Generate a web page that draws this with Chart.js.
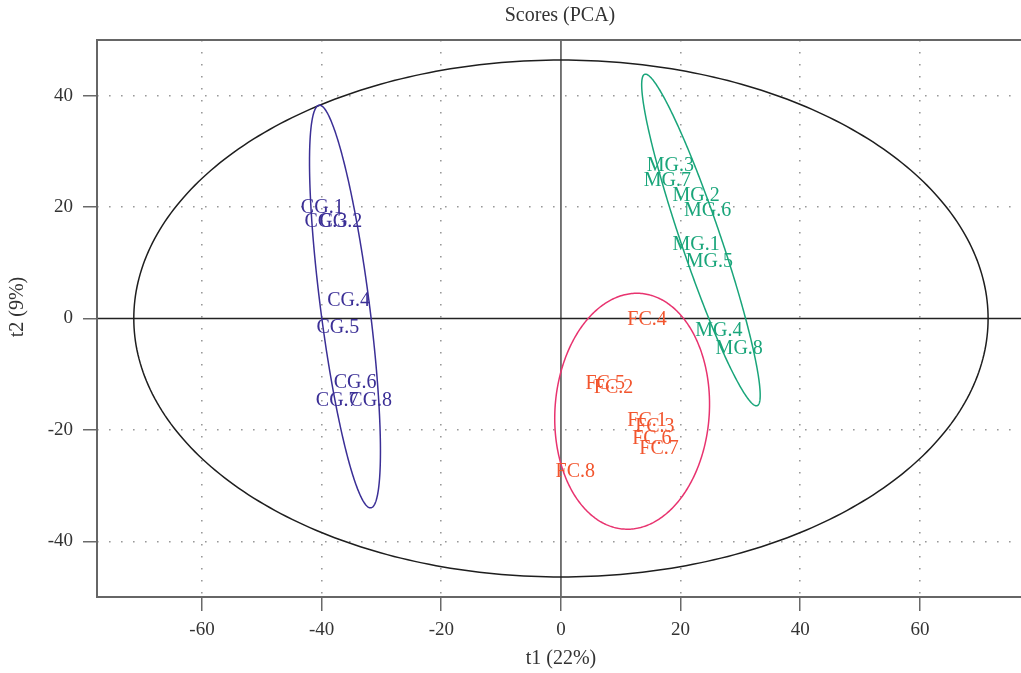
<!DOCTYPE html>
<html><head><meta charset="utf-8">
<script src="https://cdn.jsdelivr.net/npm/chart.js@4/dist/chart.umd.min.js"></script>
<style>html,body{margin:0;padding:0;background:#fff}#wrap{width:1021px;height:673px;position:relative}</style>
</head><body><div id="wrap"><canvas id="c"></canvas></div>
<script>
// ---- data ----
const chartTitle = 'Scores (PCA)';
const xAxisTitle = 't1 (22%)';
const yAxisTitle = 't2 (9%)';
const xTickValues = [-60, -40, -20, 0, 20, 40, 60];
const yTickValues = [-40, -20, 0, 20, 40];

const cgLabels = ['CG.1','CG.2','CG.3','CG.4','CG.5','CG.6','CG.7','CG.8'];
const cgT1 = [-39.9, -36.8, -39.3, -35.5, -37.3, -34.4, -37.4, -31.8];
const cgT2 = [19.9, 17.3, 17.3, 3.2, -1.6, -11.6, -14.7, -14.7];

const mgLabels = ['MG.1','MG.2','MG.3','MG.4','MG.5','MG.6','MG.7','MG.8'];
const mgT1 = [22.6, 22.6, 18.3, 26.4, 24.8, 24.5, 17.8, 29.8];
const mgT2 = [13.3, 22.1, 27.5, -2.2, 10.1, 19.4, 24.8, -5.4];

const fcLabels = ['FC.1','FC.2','FC.3','FC.4','FC.5','FC.6','FC.7','FC.8'];
const fcT1 = [14.4, 8.8, 15.7, 14.4, 7.4, 15.2, 16.4, 2.4];
const fcT2 = [-18.3, -12.5, -19.4, -0.2, -11.7, -21.5, -23.4, -27.6];

// confidence ellipses (data units): all samples, CG, MG, FC
const ellipseNames = ['all', 'CG', 'MG', 'FC'];
const ellipseCx = [0, -36.1, 23.4, 11.9];
const ellipseCy = [0, 2.15, 14.1, -16.65];
const ellipseSemiMajor = [71.4, 36.4, 31.2, 21.2];
const ellipseSemiMinor = [46.4, 4.1, 3.33, 12.9];
const ellipseAngleDeg = [0, 96.8, 107.5, 86.6];

// ---- styles ----
const groupColors = {CG: '#3b2f96', MG: '#19a57a', FC: '#f2552e'};
const ellipseColors = {all: '#1e1e1e', CG: '#3b2f96', MG: '#19a57a', FC: '#e8336f'};
const FONT = "'Liberation Serif', 'DejaVu Serif', serif";

function pts(xs, ys){ return xs.map((v,i)=>({x:v, y:ys[i]})); }

const overlay = {
  id: 'overlay',
  beforeDatasetsDraw(chart){
    const {ctx, chartArea:a, scales:{x, y}} = chart;
    ctx.save();
    // zero lines
    const x0 = x.getPixelForValue(0), y0 = y.getPixelForValue(0);
    ctx.strokeStyle = '#555'; ctx.lineWidth = 1.6;
    ctx.beginPath(); ctx.moveTo(x0, a.top); ctx.lineTo(x0, a.bottom); ctx.stroke();
    ctx.strokeStyle = '#222'; ctx.lineWidth = 1.5;
    ctx.beginPath(); ctx.moveTo(a.left, y0); ctx.lineTo(a.right, y0); ctx.stroke();
    // ellipses
    ellipseNames.forEach((name, i) => {
      const th = ellipseAngleDeg[i] * Math.PI / 180;
      const ux = Math.cos(th), uy = Math.sin(th);
      const vx = -uy, vy = ux;
      const A = ellipseSemiMajor[i], B = ellipseSemiMinor[i];
      ctx.beginPath();
      const N = 360;
      for (let k = 0; k <= N; k++){
        const t = k / N * 2 * Math.PI;
        const dx = ellipseCx[i] + A*Math.cos(t)*ux + B*Math.sin(t)*vx;
        const dy = ellipseCy[i] + A*Math.cos(t)*uy + B*Math.sin(t)*vy;
        const px = x.getPixelForValue(dx), py = y.getPixelForValue(dy);
        if (k === 0) ctx.moveTo(px, py); else ctx.lineTo(px, py);
      }
      ctx.strokeStyle = ellipseColors[name];
      ctx.lineWidth = 1.5;
      ctx.stroke();
    });
    // plot frame (no right side)
    ctx.strokeStyle = '#666'; ctx.lineWidth = 2;
    ctx.beginPath();
    ctx.moveTo(a.right + 5, a.top); ctx.lineTo(a.left, a.top);
    ctx.lineTo(a.left, a.bottom); ctx.lineTo(a.right + 5, a.bottom);
    ctx.stroke();
    ctx.restore();
  },
  afterDatasetsDraw(chart){
    const {ctx} = chart;
    ctx.save();
    ctx.font = '20px ' + FONT;
    ctx.textAlign = 'center';
    ctx.textBaseline = 'middle';
    chart.data.datasets.forEach((ds, di) => {
      const meta = chart.getDatasetMeta(di);
      ctx.fillStyle = ds.textColor;
      meta.data.forEach((el, i) => {
        ctx.fillText(ds.pointLabels[i], el.x, el.y);
      });
    });
    // titles
    const a = chart.chartArea;
    ctx.fillStyle = '#333';
    ctx.font = '20px ' + FONT;
    ctx.fillText(chartTitle, 560, 16);
    ctx.fillText(xAxisTitle, chart.scales.x.getPixelForValue(0), 659);
    ctx.translate(18, 307);
    ctx.rotate(-Math.PI/2);
    ctx.fillText(yAxisTitle, 0, 0);
    ctx.restore();
  }
};

const tickStyle = {font: {family: FONT, size: 19}, color: '#333'};

new Chart(document.getElementById('c'), {
  type: 'scatter',
  data: {
    datasets: [
      {label: 'CG', data: pts(cgT1, cgT2), pointLabels: cgLabels, textColor: groupColors.CG, pointRadius: 0, pointHoverRadius: 0},
      {label: 'MG', data: pts(mgT1, mgT2), pointLabels: mgLabels, textColor: groupColors.MG, pointRadius: 0, pointHoverRadius: 0},
      {label: 'FC', data: pts(fcT1, fcT2), pointLabels: fcLabels, textColor: groupColors.FC, pointRadius: 0, pointHoverRadius: 0}
    ]
  },
  options: {
    responsive: true,
    maintainAspectRatio: false,
    animation: false,
    events: [],
    layout: {padding: {top: 40, right: 0, bottom: 0, left: 0}},
    plugins: {legend: {display: false}, tooltip: {enabled: false}, title: {display: false}},
    scales: {
      x: {
        type: 'linear', min: -77.55, max: 76.9,
        afterBuildTicks: s => { s.ticks = xTickValues.map(v => ({value: v})); },
        afterFit: s => { s.height = 76; },
        ticks: Object.assign({padding: 8, maxRotation: 0, callback: v => String(v)}, tickStyle),
        grid: {color: c => (c.tick && c.tick.value === 0) ? 'rgba(0,0,0,0)' : '#999', lineWidth: 1.6,
               tickColor: '#444', tickWidth: 1.2, tickLength: 14},
        border: {display: false, dash: [1.6, 10.4]}
      },
      y: {
        type: 'linear', min: -50, max: 50,
        afterBuildTicks: s => { s.ticks = yTickValues.map(v => ({value: v})); },
        afterFit: s => { s.width = 97; },
        ticks: Object.assign({padding: 10, callback: v => String(v)}, tickStyle),
        grid: {color: c => (c.tick && c.tick.value === 0) ? 'rgba(0,0,0,0)' : '#999', lineWidth: 1.6,
               tickColor: '#444', tickWidth: 1.2, tickLength: 14},
        border: {display: false, dash: [1.6, 10.4]}
      }
    }
  },
  plugins: [overlay]
});
</script>
</body></html>
